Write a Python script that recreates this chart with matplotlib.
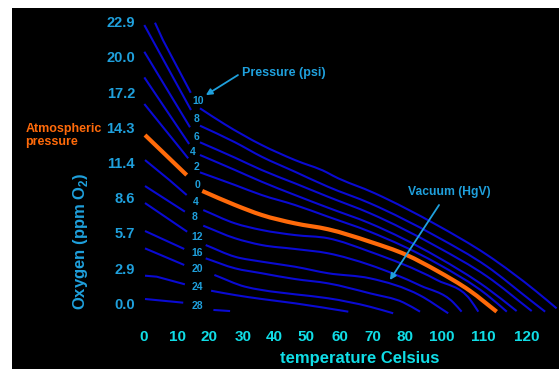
import matplotlib
matplotlib.use("Agg")
import matplotlib.pyplot as plt
from matplotlib.patches import Rectangle, PathPatch
from matplotlib.path import Path

# ---------------- data (temperature, oxygen ppm) ----------------
# left-hand segments (before the pressure labels)
left_1 = [(3.57, 22.78), (6.0, 21.37), (14.5, 17.09)]
left_2 = [(0.31, 22.59), (14.56, 15.69)]
left_3 = [(0.31, 20.42), (14.26, 14.29)]
left_4 = [(0.31, 18.34), (14.0, 12.93)]
left_5 = [(0.31, 16.18), (13.7, 11.77)]
left_atm = [(0.52, 13.66), (13.25, 10.41)]
left_6 = [(0.52, 11.63), (8.0, 10.0), (13.25, 8.79)]
left_7 = [(0.52, 9.52), (12.7, 7.44)]
left_8 = [(0.52, 8.14), (13.4, 5.81)]
left_9 = [(0.52, 5.87), (12.5, 4.41)]
left_10 = [(0.52, 4.46), (12.5, 3.11)]
left_11 = [(0.52, 2.24), (4.1, 2.16), (12.7, 1.54)]
left_12 = [(0.52, 0.35), (12.2, 0.05)]

# right-hand segments (after the pressure labels)
psi10 = [(17.3, 15.83), (24.9, 14.53), (36.15, 12.85), (46.3, 11.63), (56.0, 10.63),
         (57.9, 10.36), (70.7, 8.93), (89.6, 6.36), (104.9, 3.94), (120.1, 0.94), (126.2, -0.41)]
psi8 = [(17.3, 14.42), (28.0, 13.07), (36.15, 11.9), (46.3, 10.68), (56.4, 9.46),
        (69.2, 8.12), (89.6, 5.41), (104.9, 3.0), (118.1, 0.27), (122.7, -0.68)]
psi6 = [(17.3, 13.07), (28.0, 11.82), (36.15, 10.82), (46.3, 9.74), (56.4, 8.65),
        (69.2, 7.31), (89.6, 4.6), (104.9, 2.19), (118.6, -0.63)]
psi4 = [(17.3, 12.04), (28.0, 10.82), (36.15, 9.87), (46.3, 8.79), (56.4, 7.76),
        (69.2, 6.49), (89.6, 3.79), (104.9, 1.24), (114.0, -0.63)]
psi2 = [(17.3, 10.63), (28.0, 9.6), (36.15, 8.79), (46.3, 7.98), (56.4, 7.03),
        (69.2, 5.81), (89.6, 3.25), (104.9, 0.69), (111.0, -0.68)]
atmospheric = [(18.0, 9.12), (28.0, 7.98), (36.15, 7.17), (46.3, 6.49), (56.4, 6.01),
               (69.2, 5.0), (80.4, 3.92), (89.6, 2.65), (99.8, 1.0), (107.9, -0.68)]
hgv4 = [(18.3, 7.57), (28.0, 6.49), (36.15, 5.95), (46.3, 5.54), (56.4, 5.28),
        (69.2, 4.19), (89.6, 1.9), (99.8, 0.3), (102.3, -0.68)]
hgv8 = [(18.3, 6.3), (28.0, 5.28), (36.15, 4.73), (46.3, 4.41), (56.4, 4.06),
        (69.2, 3.11), (84.5, 1.45), (94.65, 0.07), (97.2, -0.68)]
hgv12 = [(19.05, 4.73), (28.0, 3.78), (36.15, 3.38), (46.3, 2.97), (56.4, 2.44),
         (69.2, 2.03), (84.5, 0.64), (93.1, -0.81)]
hgv16 = [(19.05, 3.65), (28.0, 2.84), (36.15, 2.44), (46.3, 1.97), (56.4, 1.62),
         (69.2, 0.81), (79.4, 0.07), (84.5, -0.68)]
hgv20 = [(21.7, 2.30), (31.05, 1.35), (36.15, 1.08), (46.3, 0.73), (56.4, 0.41),
         (69.2, -0.28), (76.3, -0.81)]
hgv24 = [(20.7, 1.02), (28.0, 0.67), (36.15, 0.35), (46.3, 0.0), (62.6, -0.68)]
hgv28 = [(21.4, -0.54), (26.5, -0.63)]

# curve labels (pressure psi / vacuum HgV) and where they sit
curve_labels = ["10", "8", "6", "4", "2", "0", "4", "8", "12", "16", "20", "24", "28"]
label_t = [16.7, 16.4, 16.1, 15.2, 16.1, 16.4, 16.1, 15.5, 16.4, 16.4, 16.4, 16.4, 16.4]
label_o = [16.42, 14.96, 13.5, 12.28, 11.06, 9.6, 8.22, 7.0, 5.38, 4.08, 2.78, 1.32, -0.22]

# axis ticks
x_tick_labels = ["0", "10", "20", "30", "40", "50", "60", "70", "80", "100", "110", "120"]
x_tick_pos = [0, 10.3, 20.06, 30.4, 39.9, 49.8, 59.9, 70.05, 79.8, 91.2, 103.7, 117.2]
y_tick_labels = ["0.0", "2.9", "5.7", "8.6", "11.4", "14.3", "17.2", "20.0", "22.9"]
y_tick_pos = [0, 2.857, 5.714, 8.571, 11.429, 14.286, 17.143, 20.0, 22.857]

# ---------------- styling ----------------
W, H = 559, 369
BLUE = "#0a0ad2"
ORANGE = "#ff6a0a"
TXT_BLUE = "#1fa0dc"
CYAN = "#10dde6"
FONT = "Liberation Sans"

fig = plt.figure(figsize=(W / 100, H / 100), dpi=100, facecolor="white")
fig.patches.append(Rectangle((12 / W, 0), 1, 1 - 8 / H, transform=fig.transFigure,
                             facecolor="black", edgecolor="none", zorder=-10))

ax_l, ax_r, ax_t, ax_b = 140, 559, 10, 320
ax = fig.add_axes([ax_l / W, 1 - ax_b / H, (ax_r - ax_l) / W, (ax_b - ax_t) / H])
ax.set_zorder(5)
ax.set_facecolor("none")
ax.patch.set_alpha(0)
for s in ax.spines.values():
    s.set_visible(False)
ax.set_xlim(-1.008, 126.93)
ax.set_ylim(-1.356, 23.81)


def draw(seg, color=BLUE, lw=1.5):
    t = [p[0] for p in seg]
    o = [p[1] for p in seg]
    ax.plot(t, o, color=color, lw=lw, solid_capstyle="butt", clip_on=False)


def draw_smooth(seg, color=BLUE, lw=1.5):
    """Smooth curve through the read points (cubic Hermite drawn as Bezier)."""
    if len(seg) < 3:
        draw(seg, color, lw)
        return
    xs = [p[0] for p in seg]
    ys = [p[1] for p in seg]
    n = len(seg)
    h = [xs[i + 1] - xs[i] for i in range(n - 1)]
    d = [(ys[i + 1] - ys[i]) / h[i] for i in range(n - 1)]
    m = [d[0]]
    for i in range(1, n - 1):
        m.append((d[i - 1] * h[i] + d[i] * h[i - 1]) / (h[i - 1] + h[i]))
    m.append(d[-1])
    verts = [(xs[0], ys[0])]
    codes = [Path.MOVETO]
    for i in range(n - 1):
        c1 = (xs[i] + h[i] / 3, ys[i] + m[i] * h[i] / 3)
        c2 = (xs[i + 1] - h[i] / 3, ys[i + 1] - m[i + 1] * h[i] / 3)
        verts += [c1, c2, (xs[i + 1], ys[i + 1])]
        codes += [Path.CURVE4] * 3
    ax.add_patch(PathPatch(Path(verts, codes), facecolor="none", edgecolor=color,
                           lw=lw, capstyle="butt", clip_on=False))


for seg in [left_1, left_2, left_3, left_4, left_5, left_6, left_7, left_8,
            left_9, left_10, left_11, left_12]:
    draw(seg)
for seg in [psi10, psi8, psi6, psi4, psi2, hgv4, hgv8, hgv12, hgv16, hgv20, hgv24, hgv28]:
    draw_smooth(seg)
draw(left_atm, ORANGE, 3.0)
draw_smooth(atmospheric, ORANGE, 3.0)

for lab, t, o in zip(curve_labels, label_t, label_o):
    ax.text(t, o, lab, color=TXT_BLUE, fontsize=7.5, fontweight="bold",
            family=FONT, ha="center", va="center")

ax.set_xticks(x_tick_pos)
ax.set_xticklabels(x_tick_labels)
ax.set_yticks(y_tick_pos)
ax.set_yticklabels(y_tick_labels)
ax.tick_params(axis="x", length=0, pad=7, labelsize=11, labelcolor=CYAN)
ax.tick_params(axis="y", length=0, pad=3.6, labelsize=10.5, labelcolor=TXT_BLUE)
for lab in ax.get_xticklabels() + ax.get_yticklabels():
    lab.set_fontweight("bold")
    lab.set_family(FONT)

ax.set_xlabel("temperature Celsius", color=CYAN, fontsize=12, fontweight="bold",
              family=FONT, va="center")
ax.xaxis.set_label_coords((360 - ax_l) / (ax_r - ax_l), (ax_b - 359) / (ax_b - ax_t))
ax.set_ylabel("Oxygen (ppm O$_\\mathregular{2}$)", color=TXT_BLUE, fontsize=12,
              fontweight="bold", family=FONT, va="center", ha="center")
ax.yaxis.set_label_coords((81 - ax_l) / (ax_r - ax_l), (ax_b - 241) / (ax_b - ax_t))

ax.text(-36.0, 13.62, "Atmospheric\npressure", color=ORANGE, fontsize=9,
        fontweight="bold", family=FONT, ha="left", va="center", linespacing=1.15,
        clip_on=False)
ax.text(30.2, 18.67, "Pressure (psi)", color=TXT_BLUE, fontsize=9,
        fontweight="bold", family=FONT, ha="left", va="center")
ax.text(93.3, 9.01, "Vacuum (HgV)", color=TXT_BLUE, fontsize=8.7,
        fontweight="bold", family=FONT, ha="center", va="center")

arrow_style = dict(arrowstyle="-|>", color=TXT_BLUE, lw=1.3, mutation_scale=9,
                   shrinkA=0, shrinkB=0)
ax.annotate("", xy=(19.1, 16.9), xytext=(28.9, 18.53), arrowprops=arrow_style)
ax.annotate("", xy=(75.3, 1.89), xytext=(90.3, 7.98), arrowprops=arrow_style)

fig.savefig("out.png", dpi=100, facecolor=fig.get_facecolor())
